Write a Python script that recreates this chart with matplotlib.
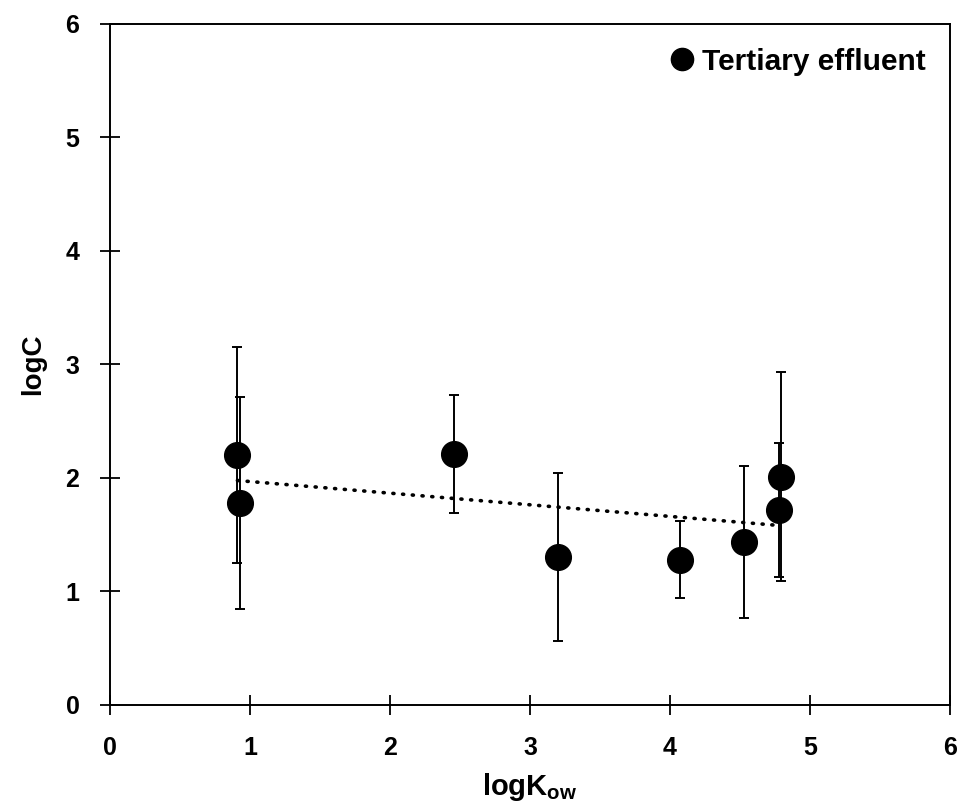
#!/usr/bin/env python3
"""logC vs logKow scatter with error bars and linear trend (tertiary effluent)."""

import matplotlib

matplotlib.use("Agg")
import matplotlib.pyplot as plt
from matplotlib.lines import Line2D
import numpy as np

plt.rcParams["font.family"] = ["Liberation Sans", "DejaVu Sans"]
plt.rcParams["font.weight"] = "bold"
plt.rcParams["mathtext.fontset"] = "custom"
plt.rcParams["mathtext.rm"] = "Liberation Sans:bold"
plt.rcParams["mathtext.it"] = "Liberation Sans:bold"
plt.rcParams["mathtext.bf"] = "Liberation Sans:bold"

# values
log_kow = [0.91, 0.93, 2.46, 3.20, 4.07, 4.53, 4.79, 4.78]
log_c = [2.20, 1.78, 2.21, 1.30, 1.28, 1.44, 2.01, 1.72]
log_c_err = [0.95, 0.93, 0.52, 0.74, 0.34, 0.67, 0.92, 0.59]
series_label = "Tertiary effluent"

x = np.array(log_kow)
y = np.array(log_c)

fig = plt.figure(figsize=(9.65, 8.07), dpi=100)
ax = fig.add_axes([0.114, 0.1264, 0.8705, 0.8439])

ax.errorbar(x, y, yerr=log_c_err, fmt="o", color="black", markersize=18.5,
            elinewidth=1.4, capsize=3.5, capthick=1.4, zorder=3)

# linear trend line over the data range
slope, intercept = np.polyfit(x, y, 1)
xt = np.array([x.min(), x.max()])
ax.plot(xt, slope * xt + intercept, color="black", linewidth=2.6,
        linestyle=(0, (0.3, 2.4)), dash_capstyle="round", zorder=2)

ax.set_xlim(0, 6)
ax.set_ylim(0, 6)
ax.set_xticks(range(7))
ax.set_yticks(range(7))
ax.tick_params(direction="inout", length=14, width=1.3, labelsize=18, pad=15)
for s in ax.spines.values():
    s.set_linewidth(1.4)

ax.set_xlabel("logK$_{ow}$", fontsize=21, fontweight="bold", labelpad=8)
ax.set_ylabel("logC", fontsize=20, fontweight="bold", labelpad=14)

handle = Line2D([], [], marker="o", color="black", linestyle="none", markersize=16)
ax.legend([handle], [series_label], loc="upper right", frameon=False, fontsize=21.5,
          handletextpad=-0.3, borderaxespad=0.4)

fig.savefig("out.png", dpi=100)
